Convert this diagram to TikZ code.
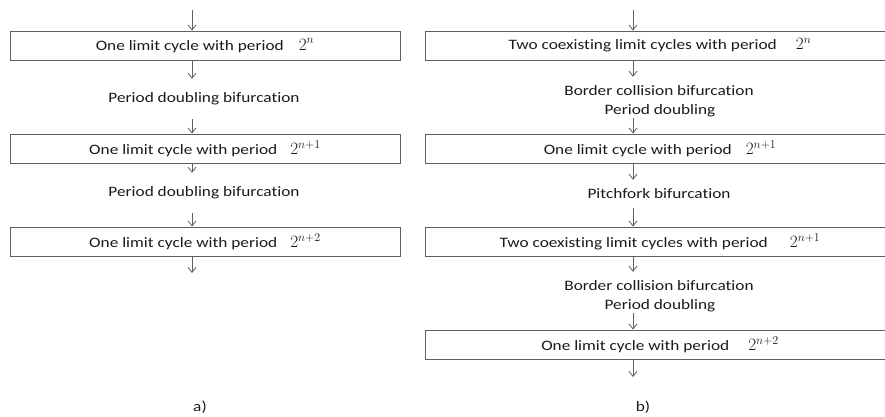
\documentclass[tikz,border=0pt]{standalone}
\usepackage{fontspec}
\setmainfont{Carlito}[FakeStretch=1.2,Ligatures=NoCommon]
\usetikzlibrary{arrows.meta}
\definecolor{linegray}{HTML}{606060}
\definecolor{txt}{HTML}{1a1a1a}
\newcommand{\pw}[1]{{\fontsize{16.5}{20}\selectfont$2^{#1}$}}
\begin{document}
\begin{tikzpicture}[x=1pt,y=-1pt,
  font=\fontsize{14.4}{20}\selectfont,
  box/.style={draw=linegray, line width=0.9pt, minimum height=29pt, inner sep=0pt, text=txt},
  lbox/.style={box, minimum width=390pt},
  rbox/.style={box, minimum width=470pt},
  lab/.style={inner sep=0pt, minimum height=40pt, text=txt},
  labtop/.style={inner sep=0pt, minimum height=28pt, text=txt},
  labbot/.style={inner sep=0pt, minimum height=14pt, text=txt},
  arr/.style={draw=linegray, line width=0.8pt, -{Straight Barb[length=5pt,width=8pt]}}]
\useasboundingbox (0,0) rectangle (885,416);
\clip (0,0) rectangle (885,416);
% left column
\coordinate (axl) at (192,0);
\coordinate (tl) at (192,10);
\node[lbox] (b1) at (205,45.5) {One limit cycle with period\hspace{15pt}\pw{n}};
\node[lab] (l1) at (204,99) {Period doubling bifurcation};
\node[lbox] (b2) at (205,148.5) {One limit cycle with period\hspace{13pt}\pw{n+1}};
\node[lab] (l2) at (204,193) {Period doubling bifurcation};
\node[lbox] (b3) at (205,241.5) {One limit cycle with period\hspace{13pt}\pw{n+2}};
\coordinate (el) at (192,273);
\node[text=txt] (ca) at (200,407) {a)};
\draw[arr] (tl) -- (b1.north -| axl);
\draw[arr] (b1.south -| axl) -- (l1.north -| axl);
\draw[arr] (l1.south -| axl) -- (b2.north -| axl);
\draw[arr] (b2.south -| axl) -- (l2.north -| axl);
\draw[arr] (l2.south -| axl) -- (b3.north -| axl);
\draw[arr] (b3.south -| axl) -- (el);
% right column
\coordinate (axr) at (633,0);
\coordinate (tr) at (633,10);
\node[rbox] (r1) at (660,45.5) {Two coexisting limit cycles with period\hspace{19pt}\pw{n}};
\node[labtop] (m1a) at (659,91) {Border collision bifurcation};
\node[labbot] (m1b) at (660,111) {Period doubling};
\node[rbox] (r2) at (660,148.5) {One limit cycle with period\hspace{14pt}\pw{n+1}};
\node[labtop] (m2) at (659,194) {Pitchfork bifurcation};
\node[rbox] (r3) at (660,241.5) {Two coexisting limit cycles with period\hspace{22pt}\pw{n+1}};
\node[labtop] (m3a) at (659,286) {Border collision bifurcation};
\node[labbot] (m3b) at (660,306) {Period doubling};
\node[rbox] (r4) at (660,344.5) {One limit cycle with period\hspace{19pt}\pw{n+2}};
\coordinate (er) at (633,377);
\node[text=txt] (cb) at (643,407) {b)};
\draw[arr] (tr) -- (r1.north -| axr);
\draw[arr] (r1.south -| axr) -- (m1a.north -| axr);
\draw[arr] (m1b.south -| axr) -- (r2.north -| axr);
\draw[arr] (r2.south -| axr) -- (m2.north -| axr);
\draw[arr] (m2.south -| axr) -- (r3.north -| axr);
\draw[arr] (r3.south -| axr) -- (m3a.north -| axr);
\draw[arr] (m3b.south -| axr) -- (r4.north -| axr);
\draw[arr] (r4.south -| axr) -- (er);
\end{tikzpicture}
\end{document}
